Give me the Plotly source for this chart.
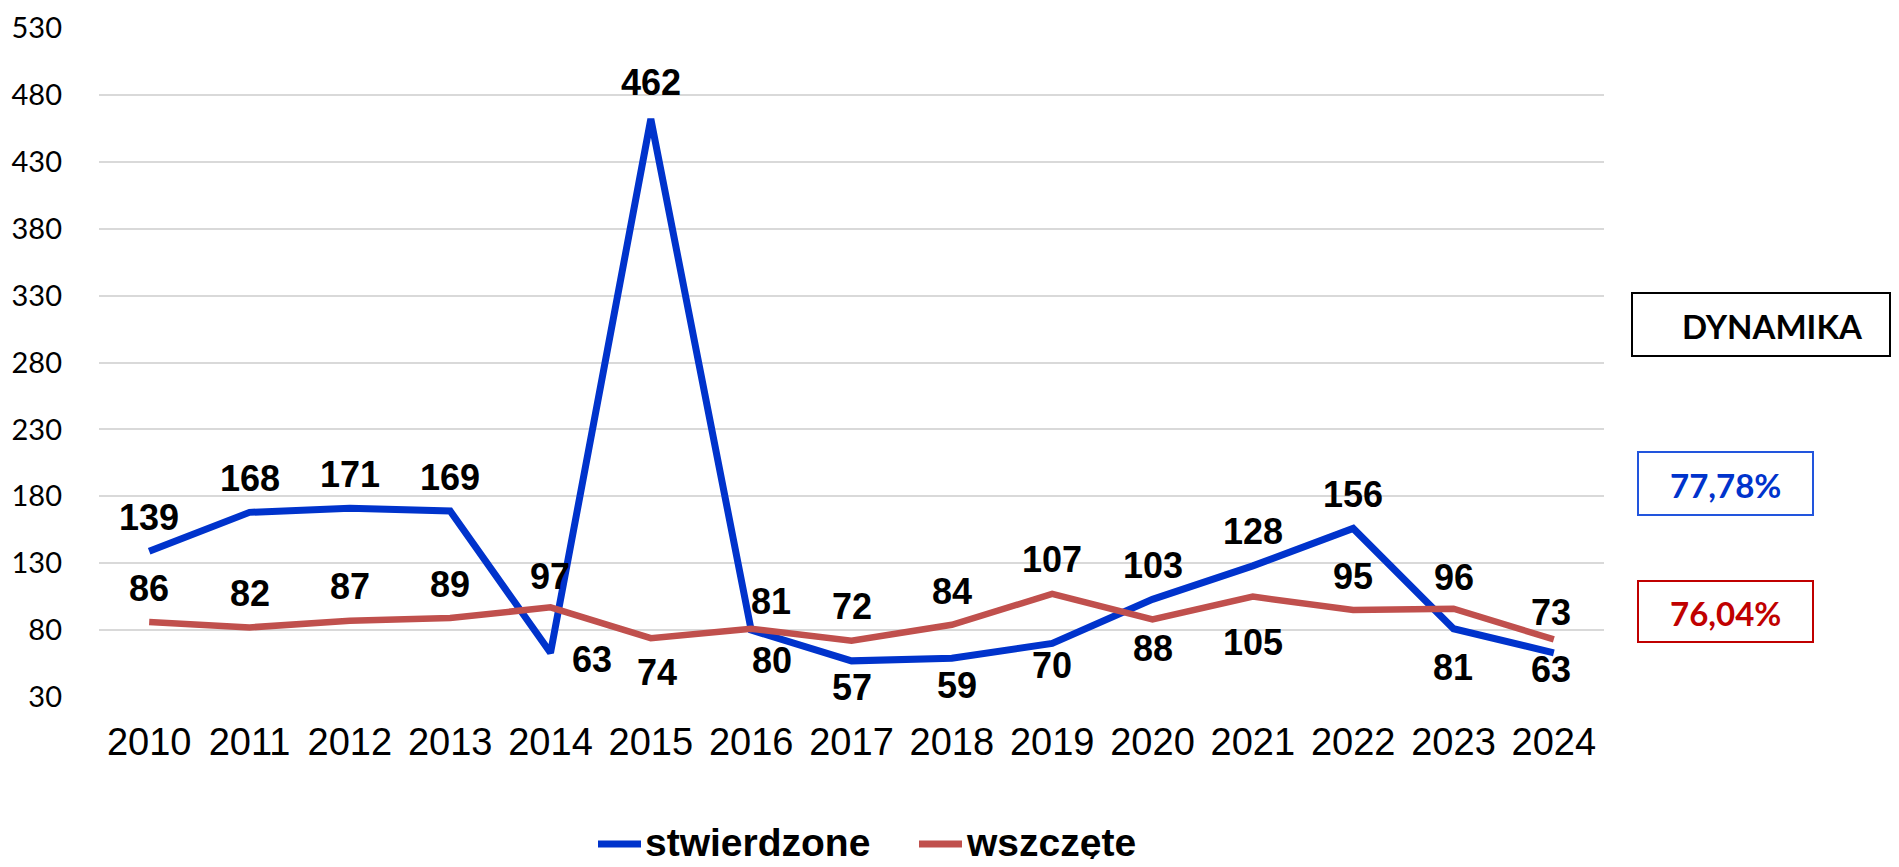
import plotly.graph_objects as go

years = ["2010", "2011", "2012", "2013", "2014", "2015", "2016", "2017",
         "2018", "2019", "2020", "2021", "2022", "2023", "2024"]
stwierdzone = [139, 168, 171, 169, 63, 462, 80, 57, 59, 70, 103, 128, 156, 81, 63]
wszczete = [86, 82, 87, 89, 97, 74, 81, 72, 84, 107, 88, 105, 95, 96, 73]
y_ticks = [30, 80, 130, 180, 230, 280, 330, 380, 430, 480, 530]
series_names = ["stwierdzone", "wszczęte"]
dyn_blue = "77,78%"
dyn_red = "76,04%"

BLUE = "#0033CC"
RED = "#C0504D"

# label offsets in px (dx right, dy down) as placed in the original
blue_dx = [0, 0, 0, 0, 41, 0, 21, 0, 5, 0, 0, 0, 0, -1, -3]
blue_dy = [-34, -34, -34, -34, 7, -36, 30, 27, 27, 22, -34, -34, -34, 39, 17]
red_dx = [0, 0, 0, 0, -1, 6, 20, 0, 0, 0, 0, 0, 0, 0, -3]
red_dy = [-34, -34, -34, -34, -31, 34, -27, -34, -33, -34, 29, 46, -34, -31, -27]

# the page body has an 8px margin, so the figure is a bit smaller than the window
OFF = 8
W, H = 1899 - 2 * OFF, 867 - 2 * OFF
# plot area in window pixels (for the side boxes and the legend)
L, R, T, B = 99, 1604, 28, 697


def px(x):
    return (x - L) / (R - L)


def py(y):
    return (B - y) / (B - T)


fig = go.Figure()
fig.add_trace(go.Scatter(x=years, y=stwierdzone, mode="lines", name=series_names[0],
                         line=dict(color=BLUE, width=7), showlegend=False))
fig.add_trace(go.Scatter(x=years, y=wszczete, mode="lines", name=series_names[1],
                         line=dict(color=RED, width=6.5), showlegend=False))

lab_font = dict(family="Arial, Liberation Sans", size=36, color="black")
ann = []
for vals, dxs, dys in [(stwierdzone, blue_dx, blue_dy), (wszczete, red_dx, red_dy)]:
    for i, (v, dx, dy) in enumerate(zip(vals, dxs, dys)):
        ann.append(dict(x=i, y=v, text="<b>%d</b>" % v, showarrow=False,
                        xanchor="center", yanchor="middle",
                        xshift=dx, yshift=-dy, font=lab_font))

shapes = []
box_font = dict(family="Lato", size=33)
for (x0, x1, y0, y1, col, txt, tcol) in [
        (1632, 1890, 293, 356, "black", "DYNAMIKA", "black"),
        (1638, 1813, 452, 515, "#2255DD", dyn_blue, BLUE),
        (1638, 1813, 581, 642, "#C00000", dyn_red, "#C00000")]:
    shapes.append(dict(type="rect", xref="paper", yref="paper",
                       x0=px(x0), x1=px(x1), y0=py(y1), y1=py(y0),
                       line=dict(color=col, width=2), fillcolor="white"))
    cx = (x0 + x1) / 2 if txt != "DYNAMIKA" else 1772
    ann.append(dict(xref="paper", yref="paper", x=px(cx), y=py((y0 + y1) / 2 + 1),
                    xanchor="center", yanchor="middle",
                    text="<b>%s</b>" % txt, showarrow=False,
                    font=dict(box_font, color=tcol)))

# legend drawn by hand (longer line keys than plotly's)
leg_font = dict(family="Arial, Liberation Sans", size=39, color="black")
LEG_Y = 842
for (x0, x1, col, name) in [(598, 641, BLUE, series_names[0]),
                            (919, 962, RED, series_names[1])]:
    shapes.append(dict(type="line", xref="paper", yref="paper",
                       x0=px(x0), x1=px(x1), y0=py(LEG_Y + 2), y1=py(LEG_Y + 2),
                       line=dict(color=col, width=7)))
    ann.append(dict(xref="paper", yref="paper", x=px(x1 + 3), y=py(LEG_Y),
                    xanchor="left", yanchor="middle", showarrow=False, borderpad=0,
                    text="<b>%s</b>" % name, font=leg_font))

fig.update_layout(
    width=W, height=H,
    margin=dict(l=L - OFF, r=W - (R - OFF), t=T - OFF, b=H - (B - OFF), pad=0),
    plot_bgcolor="white", paper_bgcolor="white",
    showlegend=False,
    xaxis=dict(type="category", range=[-0.5, 14.5], showgrid=False, zeroline=False,
               showline=False, ticks="", ticklabelstandoff=19, automargin=False,
               tickfont=dict(family="Arial, Liberation Sans", size=38, color="black")),
    yaxis=dict(range=[30, 530], tickvals=y_ticks, showgrid=True, gridcolor="#D9D9D9",
               gridwidth=2, zeroline=False, showline=False, ticks="", ticklabelstandoff=36,
               automargin=False,
               tickfont=dict(family="Lato", size=29, color="black")),
    annotations=ann,
    shapes=shapes,
)

fig.write_html("out.html")
